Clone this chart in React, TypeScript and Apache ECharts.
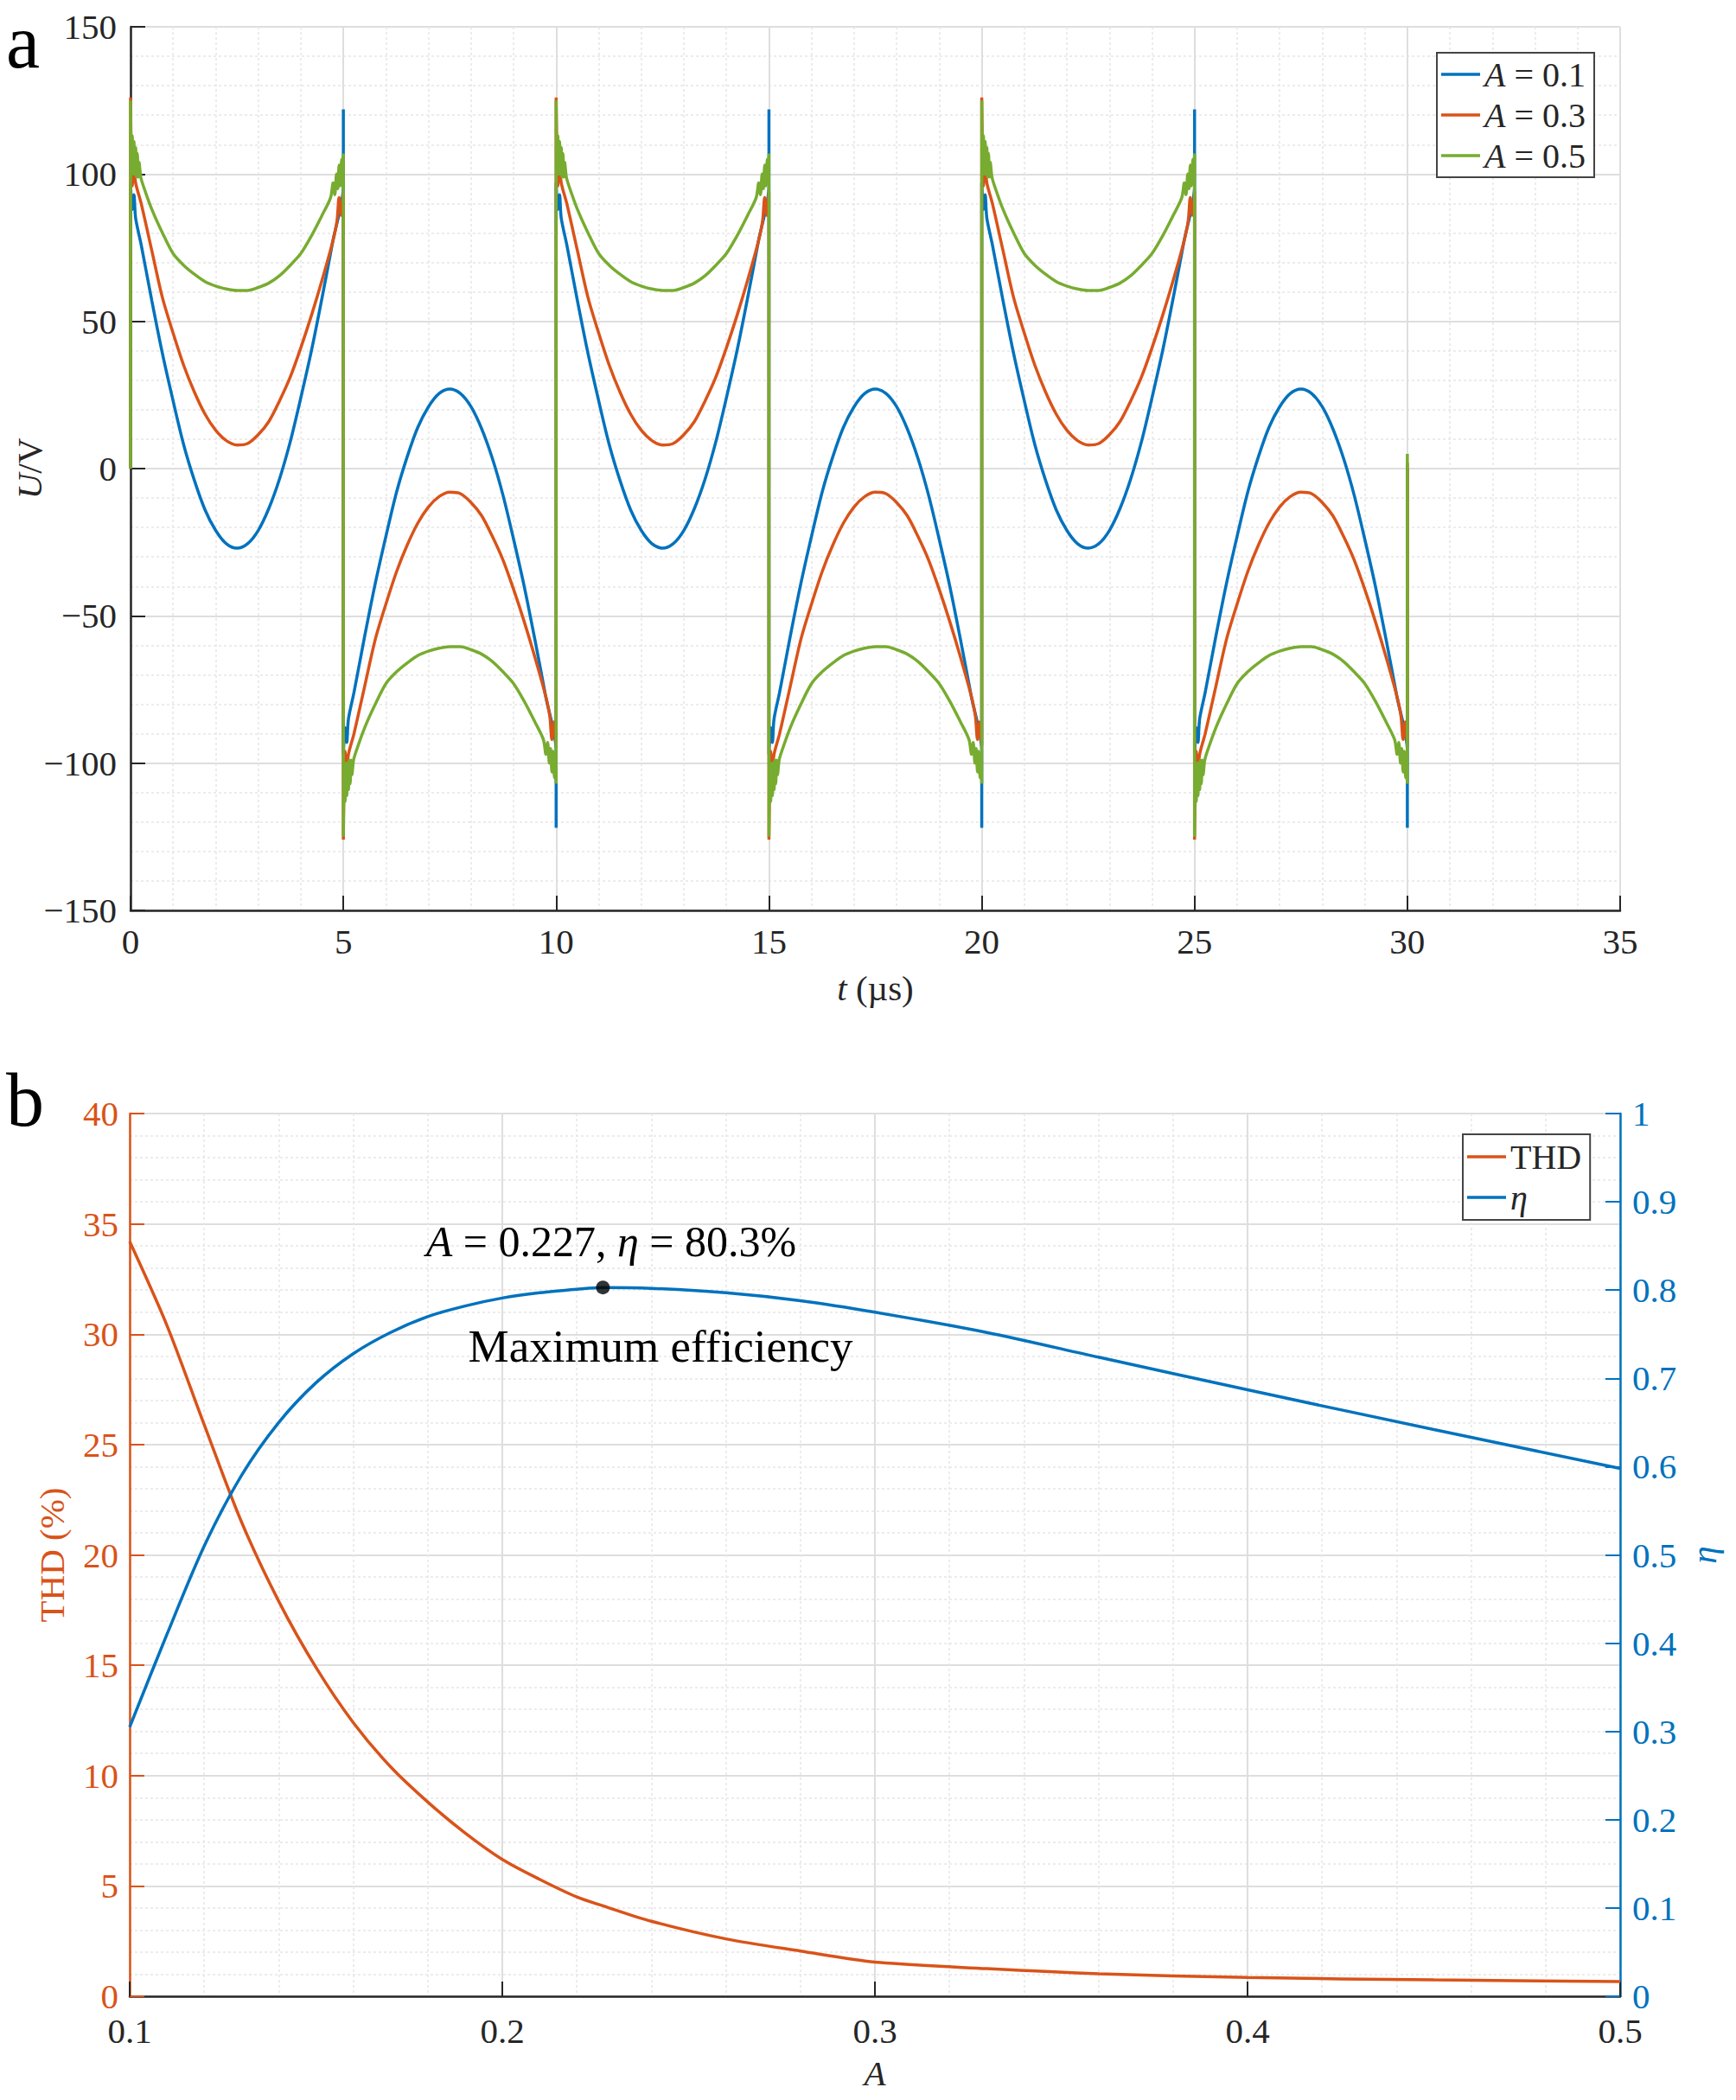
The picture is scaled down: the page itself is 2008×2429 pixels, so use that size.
import React, { useEffect, useRef } from "react";
import * as echarts from "echarts";

// ---------- Panel a: output voltage waveforms ----------
// One positive half-cycle [time offset (µs), U (V)];
// the waveform is antisymmetric and repeats every 10 µs, as drawn.
const CYCLE_STARTS = [0, 10, 20];
const HALF_PERIOD = 5;
const T_END = 30;

const BLUE_HALF: [number, number][] = [
  [0, 97], [0.04, 88], [0.08, 93], [0.12, 85], [0.25, 76], [0.5, 57], [0.75, 39],
  [1, 23], [1.25, 8], [1.5, -4], [1.75, -14], [2, -21], [2.25, -25.5], [2.5, -27],
  [2.75, -25.5], [3, -21], [3.25, -13.5], [3.5, -3.5], [3.75, 9], [4, 24],
  [4.25, 40], [4.5, 58], [4.75, 77], [5, 96], [5, 122],
];
const ORANGE_HALF: [number, number][] = [
  [0, 126], [0.04, 96], [0.08, 103], [0.12, 97], [0.25, 90], [0.5, 74], [0.75, 58],
  [1, 46], [1.25, 35], [1.5, 26], [1.75, 18.5], [2, 13], [2.25, 9.5], [2.5, 8],
  [2.75, 8.5], [3, 11.5], [3.25, 16], [3.5, 23], [3.75, 31], [4, 41], [4.25, 52],
  [4.5, 64], [4.75, 77], [4.85, 84], [4.9, 92], [4.95, 86], [5, 94],
];
const GREEN_HALF: [number, number][] = [
  [0, 125], [0.02, 100], [0.04, 113], [0.06, 100], [0.08, 111], [0.1, 100],
  [0.12, 109], [0.14, 99], [0.16, 107], [0.18, 99], [0.2, 104], [0.24, 99],
  [0.3, 96], [0.5, 88], [0.75, 80], [1, 73],
  [1.25, 69], [1.5, 66], [1.75, 63.5], [2, 62], [2.25, 61], [2.5, 60.5],
  [2.75, 60.5], [3, 61.5], [3.25, 63], [3.5, 65.5], [3.75, 69], [4, 73],
  [4.25, 79], [4.5, 86], [4.7, 92], [4.76, 97], [4.8, 93], [4.84, 100],
  [4.87, 95], [4.9, 103], [4.93, 96], [4.96, 105], [4.98, 98], [5, 107],
];
const END_VALUES = { blue: 0, orange: 2, green: 5 };

const WAVE_NAMES = ["A = 0.1", "A = 0.3", "A = 0.5"];
const T_TICKS = { min: 0, max: 35, interval: 5 };
const U_TICKS = { min: -150, max: 150, interval: 50 };

// ---------- Panel b: THD and efficiency vs A ----------
const A_VALUES = [
  0.1, 0.11, 0.12, 0.13, 0.14, 0.15, 0.16, 0.17, 0.18, 0.19, 0.2, 0.21, 0.22,
  0.227, 0.24, 0.26, 0.28, 0.3, 0.33, 0.36, 0.4, 0.45, 0.5,
];
const THD_VALUES = [
  34.2, 30.4, 25.9, 21.5, 17.9, 14.9, 12.4, 10.4, 8.8, 7.4, 6.2, 5.3, 4.5,
  4.1, 3.4, 2.6, 2.05, 1.55, 1.25, 1.02, 0.85, 0.74, 0.67,
];
const ETA_VALUES = [
  0.305, 0.41, 0.51, 0.59, 0.65, 0.695, 0.728, 0.752, 0.77, 0.782, 0.791,
  0.797, 0.801, 0.803, 0.802, 0.797, 0.788, 0.775, 0.752, 0.724, 0.687,
  0.642, 0.598,
];
const MAX_POINT: [number, number] = [0.227, 0.803];
const MAX_LABEL = "{i|A} = 0.227, {i|η} = 80.3%";
const MAX_NOTE = "Maximum efficiency";

const FONT = "Liberation Serif";
const DARK = "#262626";
const BLUE = "#0072BD";
const ORANGE = "#D95319";
const GREEN = "#77AC30";

function buildWave(half: [number, number][], endValue: number): number[][] {
  const pts: number[][] = [[0, 0]];
  for (const t0 of CYCLE_STARTS) {
    for (const [o, v] of half) pts.push([t0 + o, v]);
    for (const [o, v] of half) pts.push([t0 + HALF_PERIOD + o, -v]);
  }
  pts.push([T_END, endValue]);
  return pts;
}

const minus = (v: number) => (v < 0 ? "\u2212" + Math.abs(v) : String(v));

const majorGrid = { show: true, lineStyle: { color: "#dedede", width: 2 } };
const minorGrid = {
  show: true,
  lineStyle: { color: "#e6e6e6", width: 1.5, type: [3, 3] as any },
};
const labelStyle = (color: string, margin: number) => ({
  color,
  fontFamily: FONT,
  fontSize: 41,
  margin,
});
const tick = (color: string) => ({
  show: true,
  inside: true,
  length: 17,
  lineStyle: { color, width: 2 },
});
const line = (color: string) => ({
  show: true,
  onZero: false,
  lineStyle: { color, width: 2.5 },
});
const richItalic = (size: number, color: string) => ({
  i: { fontStyle: "italic", fontFamily: FONT, fontSize: size, color },
});
const legendBase = {
  orient: "vertical",
  icon: "rect",
  itemWidth: 45,
  itemHeight: 3.5,
  itemGap: 7,
  borderColor: "#444444",
  borderWidth: 2,
  borderRadius: 0,
  backgroundColor: "#ffffff",
  selectedMode: false,
  textStyle: {
    color: DARK,
    fontFamily: FONT,
    fontSize: 40,
    lineHeight: 40,
    rich: richItalic(40, DARK),
  },
};

export default function App() {
  const ref = useRef<HTMLDivElement>(null);
  useEffect(() => {
    if (!ref.current) return;
    const chart = echarts.init(ref.current, undefined, { renderer: "svg" });
    const waveSeries = (name: string, color: string, half: [number, number][], end: number) => ({
      name,
      type: "line",
      xAxisIndex: 0,
      yAxisIndex: 0,
      data: buildWave(half, end),
      showSymbol: false,
      symbol: "none",
      smooth: 0.3,
      color,
      lineStyle: { color, width: 3.5 },
    });
    const option: any = {
      animation: false,
      backgroundColor: "#ffffff",
      textStyle: { fontFamily: FONT },
      grid: [
        {
          left: 151, top: 31, width: 1723, height: 1022,
          containLabel: false, outerBoundsMode: "none",
        },
        {
          left: 150, top: 1288, width: 1724, height: 1021,
          containLabel: false, outerBoundsMode: "none",
        },
      ],
      xAxis: [
        {
          type: "value",
          gridIndex: 0,
          ...T_TICKS,
          axisLine: line(DARK),
          axisTick: tick(DARK),
          axisLabel: labelStyle(DARK, 15),
          splitLine: majorGrid,
          minorTick: { show: false, splitNumber: 5 },
          minorSplitLine: minorGrid,
          name: "{i|t} (µs)",
          nameLocation: "middle",
          nameGap: 69,
          nameMoveOverlap: false,
          nameTextStyle: {
            color: DARK,
            fontFamily: FONT,
            fontSize: 41,
            rich: richItalic(41, DARK),
          },
        },
        {
          type: "value",
          gridIndex: 1,
          min: 0.1,
          max: 0.5,
          interval: 0.1,
          axisLine: line(DARK),
          axisTick: tick(DARK),
          axisLabel: labelStyle(DARK, 19),
          splitLine: majorGrid,
          minorTick: { show: false, splitNumber: 5 },
          minorSplitLine: minorGrid,
          name: "{i|A}",
          nameLocation: "middle",
          nameGap: 68,
          nameMoveOverlap: false,
          nameTextStyle: {
            color: DARK,
            fontFamily: FONT,
            fontSize: 41,
            rich: richItalic(41, DARK),
          },
        },
      ],
      yAxis: [
        {
          type: "value",
          gridIndex: 0,
          ...U_TICKS,
          axisLine: line(DARK),
          axisTick: tick(DARK),
          axisLabel: { ...labelStyle(DARK, 16), formatter: minus },
          splitLine: majorGrid,
          minorTick: { show: false, splitNumber: 5 },
          minorSplitLine: minorGrid,
          name: "{i|U}/V",
          nameLocation: "middle",
          nameGap: 97,
          nameMoveOverlap: false,
          nameTextStyle: {
            color: DARK,
            fontFamily: FONT,
            fontSize: 41,
            rich: richItalic(41, DARK),
          },
        },
        {
          type: "value",
          gridIndex: 1,
          position: "left",
          min: 0,
          max: 40,
          interval: 5,
          axisLine: line(ORANGE),
          axisTick: tick(ORANGE),
          axisLabel: labelStyle(ORANGE, 13),
          splitLine: majorGrid,
          minorTick: { show: false, splitNumber: 5 },
          minorSplitLine: minorGrid,
          name: "THD (%)",
          nameLocation: "middle",
          nameGap: 70,
          nameMoveOverlap: false,
          nameTextStyle: { color: ORANGE, fontFamily: FONT, fontSize: 41 },
        },
        {
          type: "value",
          gridIndex: 1,
          position: "right",
          min: 0,
          max: 1,
          interval: 0.1,
          axisLine: line(BLUE),
          axisTick: tick(BLUE),
          axisLabel: labelStyle(BLUE, 14),
          splitLine: { show: false },
          name: "{i|η}",
          nameLocation: "middle",
          nameGap: 76,
          nameMoveOverlap: false,
          nameTextStyle: {
            color: BLUE,
            fontFamily: FONT,
            fontSize: 41,
            rich: richItalic(41, BLUE),
          },
        },
      ],
      legend: [
        {
          ...legendBase,
          data: WAVE_NAMES,
          left: 1662,
          top: 61,
          padding: [5, 10, 5, 5],
          formatter: (n: string) => n.replace("A", "{i|A}"),
        },
        {
          ...legendBase,
          data: ["THD", "η"],
          left: 1692,
          top: 1312,
          padding: [6, 10, 6, 5],
          formatter: (n: string) => (n === "η" ? "{i|η}" : n),
        },
      ],
      series: [
        waveSeries(WAVE_NAMES[0], BLUE, BLUE_HALF, END_VALUES.blue),
        waveSeries(WAVE_NAMES[1], ORANGE, ORANGE_HALF, END_VALUES.orange),
        waveSeries(WAVE_NAMES[2], GREEN, GREEN_HALF, END_VALUES.green),
        {
          name: "THD",
          type: "line",
          xAxisIndex: 1,
          yAxisIndex: 1,
          data: A_VALUES.map((a, i) => [a, THD_VALUES[i]]),
          smooth: 0.3,
          showSymbol: false,
          symbol: "none",
          color: ORANGE,
          lineStyle: { color: ORANGE, width: 3.5 },
        },
        {
          name: "η",
          type: "line",
          xAxisIndex: 1,
          yAxisIndex: 2,
          data: A_VALUES.map((a, i) => [a, ETA_VALUES[i]]),
          smooth: 0.3,
          showSymbol: false,
          symbol: "none",
          color: BLUE,
          lineStyle: { color: BLUE, width: 3.5 },
        },
        {
          name: "max",
          type: "scatter",
          xAxisIndex: 1,
          yAxisIndex: 2,
          data: [MAX_POINT],
          symbol: "circle",
          symbolSize: 16,
          itemStyle: { color: "#000000" },
          z: 5,
        },
      ],
      graphic: [
        {
          type: "text",
          x: 7,
          y: 48,
          style: {
            text: "a",
            fontFamily: FONT,
            fontSize: 88,
            fill: "#000",
            align: "left",
            verticalAlign: "middle",
          },
        },
        {
          type: "text",
          x: 7,
          y: 1272,
          style: {
            text: "b",
            fontFamily: FONT,
            fontSize: 88,
            fill: "#000",
            align: "left",
            verticalAlign: "middle",
          },
        },
        {
          type: "text",
          x: 707,
          y: 1436,
          z: 10,
          style: {
            text: MAX_LABEL,
            fontFamily: FONT,
            fontSize: 50,
            fill: "#000",
            align: "center",
            verticalAlign: "middle",
            rich: richItalic(50, "#000"),
          },
        },
        {
          type: "text",
          x: 764,
          y: 1557,
          z: 10,
          style: {
            text: MAX_NOTE,
            fontFamily: FONT,
            fontSize: 53,
            fill: "#000",
            align: "center",
            verticalAlign: "middle",
          },
        },
      ],
    };
    chart.setOption(option);
    return () => chart.dispose();
  }, []);
  return (
    <div
      ref={ref}
      style={{ position: "absolute", left: 0, top: 0, width: 2008, height: 2429 }}
    />
  );
}
